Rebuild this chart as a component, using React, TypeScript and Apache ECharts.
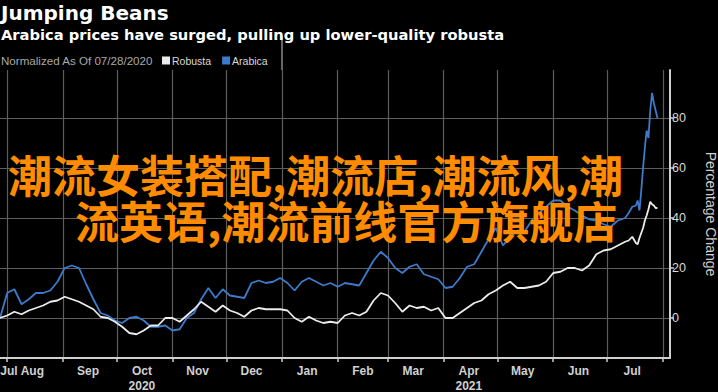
import React, { useEffect, useRef } from "react";
import * as echarts from "echarts";

// Day offsets counted from 07/28/2020 (normalization date)
const dayOffsets = [
  0, 4, 8, 12, 16, 20, 24, 28, 32, 36,
  40, 44, 48, 52, 56, 60, 64, 68, 72, 76,
  80, 84, 88, 92, 96, 100, 104, 108, 112, 116,
  120, 124, 128, 132, 136, 140, 144, 148, 152, 156,
  160, 164, 168, 172, 176, 180, 184, 188, 192, 196,
  200, 204, 208, 212, 216, 220, 224, 228, 232, 236,
  240, 244, 248, 252, 256, 260, 264, 268, 272, 276,
  280, 284, 288, 292, 296, 300, 304, 308, 312, 316,
  320, 324, 328, 332, 336, 340, 344, 348,
  350, 352, 354, 355, 356, 357, 358, 359, 360, 361, 362, 363, 364, 365, 366,
];

const arabica = [
  0, 10, 11.5, 5.5, 7.5, 10, 10, 11, 14.5, 20,
  21, 20, 13.5, 7.5, 2, 1, -1, -2, 0, 0.5,
  -1, -3.5, -3.5, -3, -5, -4.5, 0, 2, 7.5, 12,
  8, 11.5, 9, 8.5, 8, 14, 15, 14, 14.5, 16,
  14, 11, 14.5, 16, 14.5, 13, 14, 12.5, 14, 13.5,
  13, 18, 23, 26.5, 24, 20, 18, 20.5, 21.5, 17.5,
  16.5, 15.5, 12, 12.5, 16, 20.5, 21.5, 26.5, 31.5, 36,
  29, 32.5, 35, 34.5, 39, 42, 44.5, 47, 47, 44.5,
  43, 41, 39.5, 39, 37.5, 36.5, 39, 40,
  42, 44.5, 45, 47, 43, 51, 60, 68, 75, 72, 83, 90, 86, 83, 80,
];

const robusta = [
  0, 1, 2.5, 1.5, 3, 4, 5, 6.5, 7, 8.5,
  7.5, 6.5, 5, 3.5, 0.5, 0, -1.5, -3.5, -6, -6.5,
  -5, -3, -3, 0, 0, -1.5, 1, 3.5, 6.5, 4.5,
  2.5, 5, 3, 2, 0.5, 3, 4, 3.5, 3.5, 3.5,
  3, 0, -1.5, 0.5, -1, -2, -1.5, -2, 1, 2,
  1, 2.5, 7, 10, 9, 6, 2.5, 5, 4, 4.5,
  3, 4, 0, 0, 2, 4, 6, 7, 9.5, 11,
  13, 14.5, 12, 12, 12.5, 13, 14.5, 18, 18.5, 20,
  20, 19, 21, 25.5, 27, 27.5, 29, 30.5,
  31, 32.5, 30, 29.5, 32, 34, 36, 39, 41, 43.5, 46.5, 45.5, 45, 44, 44,
];

const yTickLabels = [0, 20, 40, 60, 80];
const monthNames = ["Jan", "Feb", "Mar", "Apr", "May", "Jun", "Jul", "Aug", "Sep", "Oct", "Nov", "Dec"];
const yearUnderMonth: Record<string, string> = { "2020-10": "2020", "2021-04": "2021" };
const yearBreak = "2021-01-01";
const firstMonthLabel = "2020-08-02"; // label spot for the partial July 2020

const titleText = "Jumping Beans";
const subtitleText = "Arabica prices have surged, pulling up lower-quality robusta";
const noteText = "Normalized As Of 07/28/2020";
const watermark1 = "潮流女装搭配,潮流店,潮流风,潮";
const watermark2 = "流英语,潮流前线官方旗舰店";

const START = Date.UTC(2020, 6, 28);
const TOTAL_DAYS = 374;
const iso = (t: number) => new Date(t).toISOString().slice(0, 10);
const categories = Array.from({ length: TOTAL_DAYS }, (_, i) => iso(START + i * 86400000));

export default function App() {
  const ref = useRef<HTMLDivElement>(null);
  useEffect(() => {
    if (!ref.current) return;
    const chart = echarts.init(ref.current, undefined, { renderer: "svg" });
    const font = "Liberation Sans";
    const wide = "DejaVu Sans";
    const axisGrey = "#cfcfcf";
    const gridGrey = "#5e5e5e";
    const isMonthStart = (i: number) => (categories[i] || "").endsWith("-01");
    const isLabelDay = (i: number) => {
      const c = categories[i] || "";
      return c.endsWith("-15") || c === firstMonthLabel;
    };
    chart.setOption({
      animation: false,
      backgroundColor: "#000",
      textStyle: { fontFamily: font },
      title: [
        { text: titleText, left: 1, top: 3, padding: 0, textStyle: { color: "#fff", fontSize: 20, fontWeight: "bold", fontFamily: wide } },
        { text: subtitleText, left: 1, top: 27, padding: 0, textStyle: { color: "#fff", fontSize: 14.7, fontWeight: "bold", fontFamily: wide } },
        { text: noteText, left: 1, top: 54, padding: 0, textStyle: { color: "#a8a8a8", fontSize: 11.6, fontWeight: "normal", fontFamily: font } },
      ],
      legend: {
        data: ["Robusta", "Arabica"],
        left: 162,
        top: 55,
        padding: 0,
        icon: "rect",
        itemWidth: 8,
        itemHeight: 8,
        itemGap: 11,
        textStyle: { color: "#d8d8d8", fontSize: 10.5, fontFamily: font, padding: [0, 0, 0, -3] },
      },
      grid: { left: 0, right: 48, top: 70, bottom: 34, containLabel: false, outerBoundsMode: "none" },
      xAxis: [
        {
          type: "category",
          data: categories,
          boundaryGap: false,
          axisLine: { show: true, onZero: false, lineStyle: { color: axisGrey, width: 2 } },
          axisTick: { show: true, length: 4, lineStyle: { color: axisGrey, width: 1.5 }, interval: isMonthStart },
          splitLine: { show: true, lineStyle: { color: gridGrey, width: 1.2, type: "solid" }, interval: isMonthStart },
          axisLabel: {
            color: "#d0d0d0",
            fontSize: 12,
            fontWeight: "bold",
            margin: 5,
            lineHeight: 15,
            interval: isLabelDay,
            formatter: (v: string, i: number) => {
              const c = typeof v === "string" ? v : categories[i];
              const key = c === firstMonthLabel ? "2020-07" : c.slice(0, 7);
              const m = monthNames[+key.slice(5, 7) - 1];
              return yearUnderMonth[key] ? m + "\n" + yearUnderMonth[key] : m;
            },
          },
        },
        {
          type: "category",
          data: categories,
          boundaryGap: false,
          axisLine: { show: false, onZero: false },
          axisTick: { show: true, length: 34, lineStyle: { color: "#8a8a8a", width: 1.5 }, interval: (i: number) => categories[i] === yearBreak },
          axisLabel: { show: false },
          splitLine: { show: false },
        },
      ],
      yAxis: {
        type: "value",
        position: "right",
        min: -16,
        max: 99.2,
        axisLine: { show: true, lineStyle: { color: axisGrey, width: 2 } },
        axisTick: { show: true, length: 4, customValues: yTickLabels, lineStyle: { color: axisGrey, width: 1.5 } },
        axisLabel: { color: "#d8d8d8", fontSize: 12.5, margin: 2, customValues: yTickLabels },
        splitLine: { show: true, lineStyle: { color: gridGrey, width: 1.2, type: "solid" } },
        name: "Percentage Change",
        nameLocation: "middle",
        nameRotate: -90,
        nameGap: 34,
        nameTextStyle: { color: "#cfcfcf", fontSize: 14, fontFamily: font },
      },
      series: [
        {
          name: "Arabica",
          type: "line",
          symbol: "none",
          color: "#3d7acb",
          lineStyle: { width: 1.8, color: "#3d7acb" },
          data: dayOffsets.map((d, i) => [categories[d], arabica[i]]),
          z: 3,
        },
        {
          name: "Robusta",
          type: "line",
          symbol: "none",
          color: "#ececec",
          lineStyle: { width: 1.8, color: "#ececec" },
          data: dayOffsets.map((d, i) => [categories[d], robusta[i]]),
          z: 4,
        },
      ],
      graphic: [
        {
          type: "text",
          left: 8,
          top: 152,
          z: 100,
          style: { text: watermark1, fill: "#ff8c00", font: 'bold 44px "Noto Sans CJK SC"' },
        },
        {
          type: "text",
          left: 75,
          top: 198,
          z: 100,
          style: { text: watermark2, fill: "#ff8c00", font: 'bold 44px "Noto Sans CJK SC"' },
        },
      ],
    });
    return () => chart.dispose();
  }, []);
  return (
    <div
      ref={ref}
      style={{ position: "fixed", left: 0, top: 0, width: 718, height: 392, background: "#000" }}
    />
  );
}
